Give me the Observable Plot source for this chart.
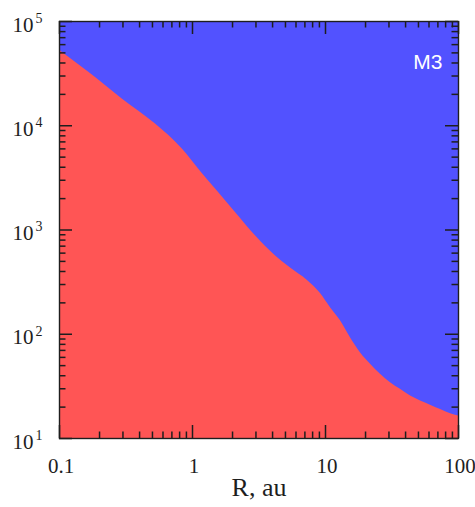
<!DOCTYPE html>
<html><head><meta charset="utf-8">
<script src="https://cdn.jsdelivr.net/npm/d3@7"></script>
<script src="https://cdn.jsdelivr.net/npm/@observablehq/plot@0.6"></script>
<style>body{margin:0;background:#fff;}</style>
</head><body><div id="chart"></div>
<script>
// Boundary curve (R in au, value)
const radius = [0.1, 0.166, 0.296, 0.527, 0.838, 1.15, 1.53, 2.05, 3.06, 4.08, 5.46, 7.28, 9.17, 10.9, 13.0, 15.4, 18.3, 21.8, 25.9, 30.8, 36.6, 43.6, 51.8, 61.5, 73.3, 87.1, 100];
const boundary = [53000, 32600, 18100, 10400, 6000, 3650, 2380, 1530, 847, 586, 432, 330, 246, 180, 134, 92.7, 66.5, 51.5, 41.3, 34.3, 29.6, 25.5, 22.9, 20.9, 19.0, 17.3, 16.4];

const xTickValues = [0.1, 1, 10, 100];
const xTickLabels = ["0.1", "1", "10", "100"];
const yTickValues = [10, 100, 1000, 10000, 100000];
const yTickBase = ["10", "10", "10", "10", "10"];
const yTickExponent = ["1", "2", "3", "4", "5"];
const minorMultipliers = [2, 3, 4, 5, 6, 7, 8, 9];
const xDecades = [0.1, 1, 10];
const yDecades = [10, 100, 1000, 10000];
const xLabel = "R, au";
const panelLabel = "M3";

const W = 475, H = 507, mL = 59, mR = 17, mT = 21, mB = 69;
const xDomain = [0.1, 100], yDomain = [10, 1e5];
const blue = "#5252ff", red = "#ff5555", ink = "#1e1e1e";
const serif = "Liberation Serif, Times New Roman, serif";
const major = 13, minor = 6.5, tw = 1.5;

// same scales Plot uses, to express inward tick lengths in data units
const xs = d3.scaleLog().domain(xDomain).range([mL, W - mR]);
const ys = d3.scaleLog().domain(yDomain).range([H - mB, mT]);

const rows = radius.map((r, i) => ({r, v: boundary[i]}));
const xTicks = xTickValues.map((v, i) => ({v, label: xTickLabels[i]}));
const yTicks = yTickValues.map((v, i) => ({v, base: yTickBase[i], exp: yTickExponent[i]}));
const xMinor = xDecades.flatMap(d => minorMultipliers.map(m => d * m));
const yMinor = yDecades.flatMap(d => minorMultipliers.map(m => d * m));
const xTickRows = [...xTickValues.map(v => ({v, len: major})), ...xMinor.map(v => ({v, len: minor}))];
const yTickRows = [...yTickValues.map(v => ({v, len: major})), ...yMinor.map(v => ({v, len: minor}))];

const chart = Plot.plot({
  width: W, height: H,
  marginLeft: mL, marginRight: mR, marginTop: mT, marginBottom: mB,
  style: {background: "white"},
  x: {type: "log", domain: xDomain, axis: null},
  y: {type: "log", domain: yDomain, axis: null},
  marks: [
    Plot.frame({fill: blue}),
    Plot.areaY(rows, {x: "r", y1: yDomain[0], y2: "v", fill: red, curve: "monotone-x"}),
    // bottom & top ticks
    Plot.ruleX(xTickRows, {x: "v", y1: yDomain[0], y2: d => ys.invert(H - mB - d.len), stroke: ink, strokeWidth: tw}),
    Plot.ruleX(xTickRows, {x: "v", y1: yDomain[1], y2: d => ys.invert(mT + d.len), stroke: ink, strokeWidth: tw}),
    // left & right ticks
    Plot.ruleY(yTickRows, {y: "v", x1: xDomain[0], x2: d => xs.invert(mL + d.len), stroke: ink, strokeWidth: tw}),
    Plot.ruleY(yTickRows, {y: "v", x1: xDomain[1], x2: d => xs.invert(W - mR - d.len), stroke: ink, strokeWidth: tw}),
    Plot.frame({stroke: ink, strokeWidth: 1.4}),
    // x tick labels
    Plot.text(xTicks, {x: "v", text: "label", frameAnchor: "bottom", dx: 1.5, dy: 34, fontFamily: serif, fontSize: 21, fill: ink}),
    // y tick labels with superscript exponent
    Plot.text(yTicks, {y: "v", text: "base", frameAnchor: "left", textAnchor: "end", dx: -26, dy: 3.5, fontFamily: serif, fontSize: 21, fill: ink}),
    Plot.text(yTicks, {y: "v", text: "exp", frameAnchor: "left", textAnchor: "start", dx: -24, dy: -3, fontFamily: serif, fontSize: 14, fill: ink}),
    // axis label
    Plot.text([xLabel], {frameAnchor: "bottom", dy: 57, fontFamily: serif, fontSize: 26, fill: ink}),
    // panel label
    Plot.text([panelLabel], {frameAnchor: "top-right", textAnchor: "end", dx: -16, dy: 33, fontFamily: "Liberation Sans, Arial, sans-serif", fontSize: 21, fill: "white"})
  ]
});
document.getElementById("chart").appendChild(chart);
</script>
</body></html>
